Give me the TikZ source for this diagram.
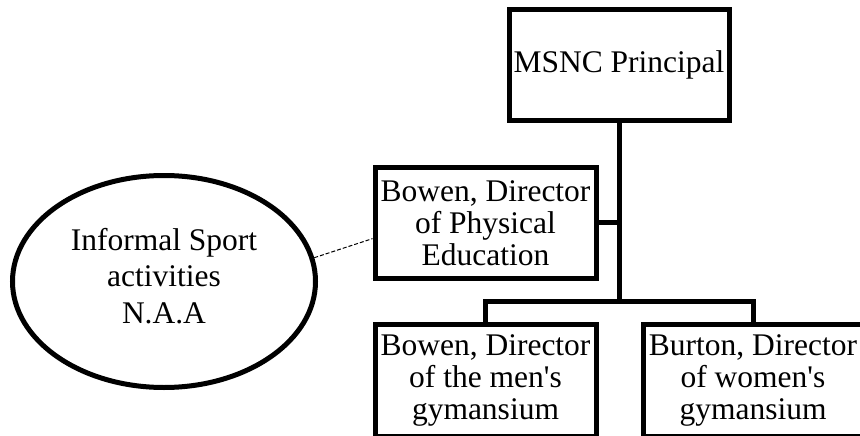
\documentclass[tikz,border=0pt]{standalone}
\usepackage{fontspec}
\setmainfont{Liberation Serif}
\usetikzlibrary{shapes.geometric}
\begin{document}
\begin{tikzpicture}[x=1pt,y=-1pt,
  orgbox/.style={draw=black, line width=5pt, fill=white, rectangle, inner sep=0pt,
    minimum width=221pt, align=center,
    font=\fontsize{31.5}{32}\selectfont},
  conn/.style={draw=black, line width=5pt, line join=miter},
  oval/.style={draw=black, line width=5pt, ellipse, inner sep=0pt,
    minimum width=303pt, minimum height=212pt},
  ovaltext/.style={align=center, inner sep=0pt, font=\fontsize{31.5}{36.7}\selectfont},
  dashlink/.style={draw=black, line width=1pt, dash pattern=on 4pt off 2pt}
]
\useasboundingbox (0,0) rectangle (860,436);

\node[orgbox, minimum width=220pt, minimum height=110pt] (msnc) at (619,65) {MSNC Principal};
\node[orgbox, minimum height=110.5pt] (pe) at (485.5,222.75) {Bowen, Director\\of Physical\\Education};
\node[orgbox, minimum height=112pt] (men) at (485.5,380) {Bowen, Director\\of the men\textquotesingle s\\gymansium};
\node[orgbox, minimum width=220pt, minimum height=112pt] (women) at (753,380) {Burton, Director\\of women\textquotesingle s\\gymansium};

\node[oval] (naa) at (164,281.5) {};
\node[ovaltext] (naatext) at (164,276) {Informal Sport\\activities\\N.A.A};

\coordinate (j) at (619,301);

\draw[conn] (msnc.south) -- (j);
\draw[conn] (pe.east) -- (pe.east -| j);
\draw[conn] (men.north) |- (j);
\draw[conn] (women.north) |- (j);

\draw[dashlink] (naa.9) -- (pe.188);
\end{tikzpicture}
\end{document}
